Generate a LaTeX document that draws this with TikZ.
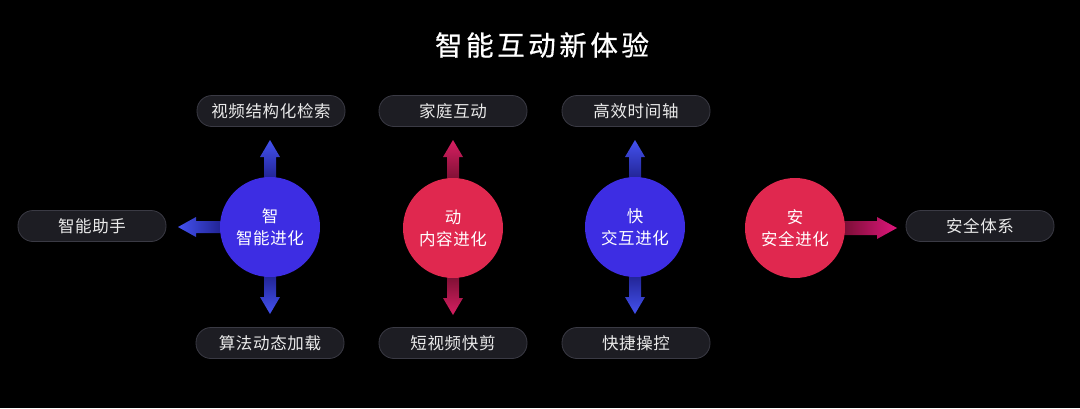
\documentclass[tikz,border=0pt]{standalone}
\usepackage{fontspec}
\setmainfont{Noto Sans CJK SC}
\newfontfamily\titlefont[LetterSpace=13,FakeBold=0.6]{Noto Sans CJK SC}
\newfontfamily\pillfont[LetterSpace=4]{Noto Sans CJK SC}
\usetikzlibrary{calc}
\definecolor{bluec}{HTML}{3D2DE3}
\definecolor{redc}{HTML}{E0284F}
\definecolor{bluehi}{HTML}{4452F0}
\definecolor{bluelo}{HTML}{1A1A80}
\definecolor{redhi}{HTML}{D81F62}
\definecolor{redlo}{HTML}{6A0D2A}
\definecolor{maghi}{HTML}{E0167C}
\definecolor{pillfill}{HTML}{1D1D23}
\definecolor{pillline}{HTML}{3A3A44}
\definecolor{txt}{HTML}{EAEAEA}
\tikzset{
  pill/.style={rounded corners=15pt, minimum width=148pt, minimum height=31pt, inner sep=0pt,
    fill=pillfill, draw=pillline, line width=0.8pt, text=txt, font=\pillfont\fontsize{16.5}{18}\selectfont},
  bigdot/.style={circle, minimum size=100pt, inner sep=0pt, align=center, text=white,
    font=\pillfont\fontsize{16.5}{22}\selectfont},
}
\begin{document}
\begin{tikzpicture}[x=1pt,y=-1pt]
\fill[black] (0,0) rectangle (1080,408);
\useasboundingbox (0,0) rectangle (1080,408);

\node[text=white, font=\titlefont\fontsize{27.5}{32}\selectfont] (title) at (542,45) {智能互动新体验};

% circle centres
\coordinate (czhi) at (270,227);
\coordinate (cdong) at (453,228);
\coordinate (ckuai) at (635,227);
\coordinate (can) at (795,228);

% pills
\node[pill] (p1) at (271,111) {视频结构化检索};
\node[pill] (p2) at (453,111) {家庭互动};
\node[pill] (p3) at (636,111) {高效时间轴};
\node[pill] (p4) at (92,226) {智能助手};
\node[pill] (p5) at (980,226) {安全体系};
\node[pill] (p6) at (270,343) {算法动态加载};
\node[pill] (p7) at (453,343) {短视频快剪};
\node[pill] (p8) at (636,343) {快捷操控};

% arrows (drawn under the circles)
% up arrows
\shade[top color=bluehi, bottom color=bluelo] ($(czhi)+(-6,-40)$) -- ++(0,-30) -- ++(-4,0) -- ++(10,-17) -- ++(10,17) -- ++(-4,0) -- ++(0,30) -- cycle;
\shade[top color=redhi, bottom color=redlo] ($(cdong)+(-6,-40)$) -- ++(0,-31) -- ++(-4,0) -- ++(10,-17) -- ++(10,17) -- ++(-4,0) -- ++(0,31) -- cycle;
\shade[top color=bluehi, bottom color=bluelo] ($(ckuai)+(-6,-40)$) -- ++(0,-30) -- ++(-4,0) -- ++(10,-17) -- ++(10,17) -- ++(-4,0) -- ++(0,30) -- cycle;
% down arrows
\shade[bottom color=bluehi, top color=bluelo] ($(czhi)+(-6,40)$) -- ++(0,30) -- ++(-4,0) -- ++(10,17) -- ++(10,-17) -- ++(-4,0) -- ++(0,-30) -- cycle;
\shade[bottom color=redhi, top color=redlo] ($(cdong)+(-6,40)$) -- ++(0,30) -- ++(-4,0) -- ++(10,17) -- ++(10,-17) -- ++(-4,0) -- ++(0,-30) -- cycle;
\shade[bottom color=bluehi, top color=bluelo] ($(ckuai)+(-6,40)$) -- ++(0,30) -- ++(-4,0) -- ++(10,17) -- ++(10,-17) -- ++(-4,0) -- ++(0,-30) -- cycle;
% left arrow
\shade[left color=bluehi, right color=bluelo] ($(czhi)+(-40,-6)$) -- ++(-34,0) -- ++(0,-4) -- ++(-18,10) -- ++(18,10) -- ++(0,-4) -- ++(34,0) -- cycle;
% right arrow
\shade[right color=maghi, left color=redlo] ($(can)+(40,-7)$) -- ++(42,0) -- ++(0,-4) -- ++(20,11) -- ++(-20,11) -- ++(0,-4) -- ++(-42,0) -- cycle;

% circles
\node[bigdot, fill=bluec] (zhi) at (czhi) {智\\智能进化};
\node[bigdot, fill=redc] (dong) at (cdong) {动\\内容进化};
\node[bigdot, fill=bluec] (kuai) at (ckuai) {快\\交互进化};
\node[bigdot, fill=redc] (an) at (can) {安\\安全进化};
\end{tikzpicture}
\end{document}
